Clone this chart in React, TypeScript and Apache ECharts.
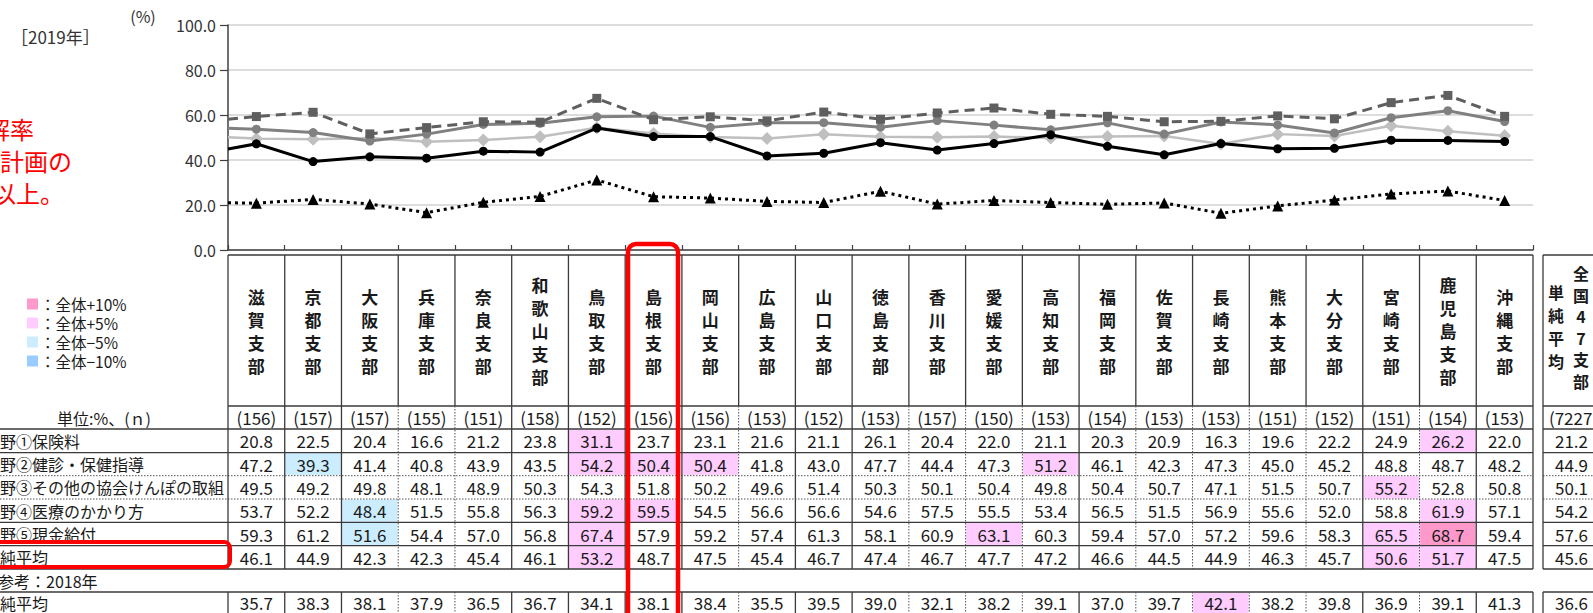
import React, { useEffect, useRef } from "react";
import * as echarts from "echarts";

// ---------- data ----------
const branches = [
  "滋賀支部", "京都支部", "大阪支部", "兵庫支部", "奈良支部", "和歌山支部", "鳥取支部", "島根支部",
  "岡山支部", "広島支部", "山口支部", "徳島支部", "香川支部", "愛媛支部", "高知支部", "福岡支部",
  "佐賀支部", "長崎支部", "熊本支部", "大分支部", "宮崎支部", "鹿児島支部", "沖縄支部",
];
const sampleSizes = [156, 157, 157, 155, 151, 158, 152, 156, 156, 153, 152, 153, 157, 150, 153, 154, 153, 153, 151, 152, 151, 154, 153];
const nationalSampleSize = "(7227)";

const rowLabels = [
  "分野①保険料",
  "分野②健診・保健指導",
  "分野③その他の協会けんぽの取組",
  "分野④医療のかかり方",
  "分野⑤現金給付",
  "単純平均",
];
const field1 = [20.8, 22.5, 20.4, 16.6, 21.2, 23.8, 31.1, 23.7, 23.1, 21.6, 21.1, 26.1, 20.4, 22.0, 21.1, 20.3, 20.9, 16.3, 19.6, 22.2, 24.9, 26.2, 22.0];
const field2 = [47.2, 39.3, 41.4, 40.8, 43.9, 43.5, 54.2, 50.4, 50.4, 41.8, 43.0, 47.7, 44.4, 47.3, 51.2, 46.1, 42.3, 47.3, 45.0, 45.2, 48.8, 48.7, 48.2];
const field3 = [49.5, 49.2, 49.8, 48.1, 48.9, 50.3, 54.3, 51.8, 50.2, 49.6, 51.4, 50.3, 50.1, 50.4, 49.8, 50.4, 50.7, 47.1, 51.5, 50.7, 55.2, 52.8, 50.8];
const field4 = [53.7, 52.2, 48.4, 51.5, 55.8, 56.3, 59.2, 59.5, 54.5, 56.6, 56.6, 54.6, 57.5, 55.5, 53.4, 56.5, 51.5, 56.9, 55.6, 52.0, 58.8, 61.9, 57.1];
const field5 = [59.3, 61.2, 51.6, 54.4, 57.0, 56.8, 67.4, 57.9, 59.2, 57.4, 61.3, 58.1, 60.9, 63.1, 60.3, 59.4, 57.0, 57.2, 59.6, 58.3, 65.5, 68.7, 59.4];
const simpleAvg = [46.1, 44.9, 42.3, 42.3, 45.4, 46.1, 53.2, 48.7, 47.5, 45.4, 46.7, 47.4, 46.7, 47.7, 47.2, 46.6, 44.5, 44.9, 46.3, 45.7, 50.6, 51.7, 47.5];
const nationalValues = [21.2, 44.9, 50.1, 54.2, 57.6, 45.6];
const simpleAvg2018 = [35.7, 38.3, 38.1, 37.9, 36.5, 36.7, 34.1, 38.1, 38.4, 35.5, 39.5, 39.0, 32.1, 38.2, 39.1, 37.0, 39.7, 42.1, 38.2, 39.8, 36.9, 39.1, 41.3];
const national2018 = 36.6;
// where each line (continuing from off-picture branches) meets the y axis
const leftEdgeValues = [21.0, 44.9, 50.1, 54.1, 58.1];

// highlighted cells: [row, column, level]
const highlights: [number, number, string][] = [
  [0, 6, "p5"], [0, 21, "p5"],
  [1, 1, "m5"], [1, 6, "p5"], [1, 7, "p5"], [1, 8, "p5"], [1, 14, "p5"],
  [2, 20, "p5"],
  [3, 2, "m5"], [3, 6, "p5"], [3, 7, "p5"], [3, 21, "p5"],
  [4, 2, "m5"], [4, 6, "p5"], [4, 13, "p5"], [4, 20, "p5"], [4, 21, "p10"],
  [5, 6, "p5"], [5, 20, "p5"], [5, 21, "p5"],
  [6, 17, "p5"],
];
const legendItems = [
  { key: "p10", label: "：全体+10%" },
  { key: "p5", label: "：全体+5%" },
  { key: "m5", label: "：全体−5%" },
  { key: "m10", label: "：全体−10%" },
];

// ---------- styles / layout ----------
const FONT = '"Noto Sans CJK JP", "Noto Sans", sans-serif';
const levelColors: Record<string, string> = { p10: "#FF99CC", p5: "#FFCCFF", m5: "#CCECFF", m10: "#99CCFF" };
const X0 = 228;
const XR = 1533;
const COLW = (XR - X0) / branches.length;
const NAT_L = 1543;
const NAT_R = 1600;
const HEAD_T = 255;
const HEAD_B = 406;
const N_B = 429;
const ROW_B = [429, 452.7, 475.7, 499, 522.3, 545.7, 569];
const REF_T = 592;
const REF_B = 616;
const DOTTED_ROW_LINES = [475.7, 499];
const separatorSolid = [true, true, false, false, true, true, true, true, false, true, true, false, false, false, true, false, false, false, false, true, false, true];
const LINE_C = "#3a3a3a";
const VAL_SIZE = 17;

const seriesStyles = [
  { color: "#000000", lineType: [3, 4] as any, width: 3, symbol: "triangle", size: 11 },
  { color: "#000000", lineType: "solid", width: 3, symbol: "circle", size: 9 },
  { color: "#BFBFBF", lineType: "solid", width: 2.5, symbol: "diamond", size: 13 },
  { color: "#808080", lineType: "solid", width: 3, symbol: "circle", size: 9 },
  { color: "#5F5F5F", lineType: [10, 6] as any, width: 3, symbol: "rect", size: 9 },
];

function colX(k: number) {
  return X0 + k * COLW;
}

function hLine(x1: number, x2: number, y: number, dotted = false, w = 1.3) {
  return {
    type: "line",
    shape: { x1, y1: y, x2, y2: y },
    style: { stroke: dotted ? "#555" : LINE_C, lineWidth: dotted ? 1 : w, lineDash: dotted ? [1.5, 1.5] : null },
    z: 10,
  };
}
function vLine(x: number, y1: number, y2: number, dotted = false, w = 1.3) {
  return {
    type: "line",
    shape: { x1: x, y1, x2: x, y2 },
    style: { stroke: dotted ? "#555" : LINE_C, lineWidth: dotted ? 1 : w, lineDash: dotted ? [1.5, 1.5] : null },
    z: 10,
  };
}
function txt(text: string, x: number, y: number, size: number, opts: any = {}) {
  const align = opts.align || "center";
  return {
    type: "text",
    x,
    y,
    z: 20,
    style: {
      text,
      fill: opts.color || "#1a1a1a",
      fontSize: size,
      fontFamily: FONT,
      fontWeight: opts.bold ? "bold" : "normal",
      align,
      textAlign: align,
      verticalAlign: "middle",
      textVerticalAlign: "middle",
      lineHeight: opts.lineHeight ?? Math.round(size * 1.05),
    },
  };
}

export default function App() {
  const ref = useRef<HTMLDivElement>(null);

  useEffect(() => {
    if (!ref.current) return;
    const chart = echarts.init(ref.current, undefined, { renderer: "svg" });

    const fields = [field1, field2, field3, field4, field5];
    const tableRows = [field1, field2, field3, field4, field5, simpleAvg];

    const series = fields.map((vals, r) => {
      const st = seriesStyles[r];
      return {
        type: "line",
        name: rowLabels[r],
        data: [
          { value: [0, leftEdgeValues[r]], symbol: "none" },
          ...vals.map((v, i) => ({ value: [i + 0.5, v] })),
        ],
        symbol: st.symbol,
        symbolSize: st.size,
        itemStyle: { color: st.color, borderWidth: 0 },
        lineStyle: { color: st.color, width: st.width, type: st.lineType },
        z: 2 + (r === 1 ? 5 : r),
        clip: false,
      };
    });

    const g: any[] = [];

    // cell highlights
    highlights.forEach(([r, c, lvl]) => {
      const top = r < 6 ? ROW_B[r] : REF_T;
      const bot = r < 6 ? ROW_B[r + 1] : REF_B;
      g.push({
        type: "rect",
        shape: { x: colX(c) + 0.6, y: top + 0.6, width: COLW - 1.2, height: bot - top - 1.2 },
        style: { fill: levelColors[lvl] },
        z: 5,
      });
    });

    // header box
    g.push(hLine(X0, XR, HEAD_T), hLine(X0, XR, HEAD_B));
    for (let k = 0; k <= branches.length; k++) g.push(vLine(colX(k), HEAD_T, HEAD_B));
    // branch names (vertical)
    branches.forEach((b, k) => {
      g.push(txt(b.split("").join("\n"), colX(k) + COLW / 2, (HEAD_T + HEAD_B) / 2, 17, { bold: true, lineHeight: 23 }));
    });

    // data rows horizontal lines
    ROW_B.forEach((y) => g.push(hLine(0, XR, y, DOTTED_ROW_LINES.includes(y))));
    g.push(hLine(0, XR, REF_T));
    // verticals
    g.push(vLine(colX(0), HEAD_B, ROW_B[6]), vLine(colX(branches.length), HEAD_B, ROW_B[6]));
    g.push(vLine(colX(0), REF_T, REF_B), vLine(colX(branches.length), REF_T, REF_B));
    separatorSolid.forEach((solid, i) => {
      const k = i + 1;
      g.push(vLine(colX(k), HEAD_B, ROW_B[6], !solid));
      g.push(vLine(colX(k), REF_T, REF_B, !solid));
    });

    // national column box
    [HEAD_T, HEAD_B, ...ROW_B, REF_T].forEach((y) => g.push(hLine(NAT_L, NAT_R, y, DOTTED_ROW_LINES.includes(y))));
    g.push(vLine(NAT_L, HEAD_T, ROW_B[6]), vLine(NAT_L, REF_T, REF_B));
    g.push(txt("単純平均".split("").join("\n"), 1556, 326.5, 16, { bold: true, lineHeight: 23 }));
    g.push(txt("全国47支部".split("").join("\n"), 1581, 327, 16, { bold: true, lineHeight: 21.6 }));

    // n row
    const nY = (HEAD_B + N_B) / 2;
    sampleSizes.forEach((n, k) => g.push(txt(`(${n})`, colX(k) + COLW / 2, nY, VAL_SIZE)));
    g.push(txt(nationalSampleSize, (NAT_L + NAT_R) / 2 + 2, nY, VAL_SIZE));
    g.push(txt("単位:%、(ｎ)", 104, nY, 16));

    // value rows
    tableRows.forEach((vals, r) => {
      const y = (ROW_B[r] + ROW_B[r + 1]) / 2;
      vals.forEach((v, k) => g.push(txt(v.toFixed(1), colX(k) + COLW / 2, y, VAL_SIZE)));
      g.push(txt(nationalValues[r].toFixed(1), (NAT_L + NAT_R) / 2, y, VAL_SIZE));
      g.push(txt(rowLabels[r], -16, y, 16, { align: "left" }));
    });
    g.push(txt("参考：2018年", -2, (ROW_B[6] + REF_T) / 2, 16, { align: "left" }));
    const refY = (REF_T + REF_B) / 2 - 1.5;
    simpleAvg2018.forEach((v, k) => g.push(txt(v.toFixed(1), colX(k) + COLW / 2, refY, VAL_SIZE)));
    g.push(txt(national2018.toFixed(1), (NAT_L + NAT_R) / 2, refY, VAL_SIZE));
    g.push(txt("単純平均", -16, refY, 16, { align: "left" }));

    // legend
    legendItems.forEach((it, i) => {
      const y = 304 + i * 19;
      g.push({ type: "rect", shape: { x: 27, y: y - 5.5, width: 11, height: 11 }, style: { fill: levelColors[it.key] }, z: 5 });
      g.push(txt(it.label, 40, y, 15.5, { align: "left", lineHeight: 17 }));
    });

    // titles
    g.push(txt("［2019年］", 11, 36, 17, { align: "left", color: "#333" }));
    g.push(txt("(%)", 143, 16, 16, { color: "#333" }));
    g.push(txt("解率", 34, 128, 24, { align: "right", color: "#FF0000" }));
    g.push(txt("計画の", 72, 160, 24, { align: "right", color: "#FF0000" }));
    g.push(txt("以上。", 64, 192, 24, { align: "right", color: "#FF0000" }));

    // red annotation boxes
    g.push({
      type: "rect",
      shape: { x: 628, y: 244, width: 50, height: 420, r: 8 },
      style: { fill: "none", stroke: "#FF0000", lineWidth: 4.5 },
      z: 30,
    });
    g.push({
      type: "rect",
      shape: { x: -10, y: 542, width: 240, height: 25, r: 6 },
      style: { fill: "none", stroke: "#FF0000", lineWidth: 4 },
      z: 30,
    });

    chart.setOption({
      animation: false,
      backgroundColor: "#ffffff",
      grid: { left: X0, right: 1593 - XR, top: 25, bottom: 613 - 250 },
      xAxis: {
        type: "value",
        min: 0,
        max: branches.length,
        interval: 1,
        axisLabel: { show: false },
        splitLine: { show: false },
        axisTick: { show: true, inside: true, length: 5, lineStyle: { color: "#404040", width: 1.2 } },
        axisLine: { show: true, onZero: false, lineStyle: { color: "#404040", width: 1.5 } },
      },
      yAxis: {
        type: "value",
        min: 0,
        max: 100,
        interval: 20,
        axisLabel: {
          formatter: (v: number) => v.toFixed(1),
          fontSize: 16,
          color: "#333",
          margin: 12,
          fontFamily: FONT,
        },
        axisTick: { show: true, length: 8, lineStyle: { color: "#404040", width: 1.2 } },
        axisLine: { show: true, lineStyle: { color: "#404040", width: 1.5 } },
        splitLine: { show: true, lineStyle: { color: "#DDDDDD", width: 2 } },
      },
      series,
      graphic: { elements: g },
    });

    return () => chart.dispose();
  }, []);

  return (
    <div
      ref={ref}
      style={{ position: "absolute", left: 0, top: 0, width: 1593, height: 613, background: "#fff" }}
    />
  );
}
